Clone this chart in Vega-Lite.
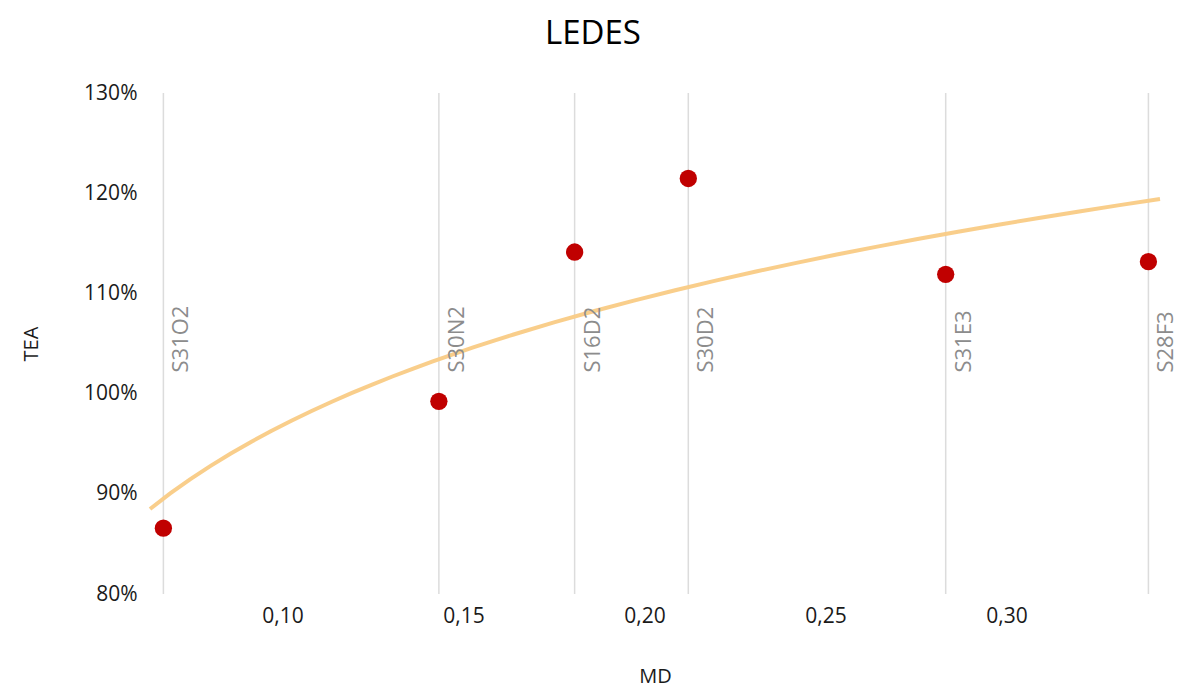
{
  "$schema": "https://vega.github.io/schema/vega-lite/v6.json",
  "width": 1010,
  "height": 501,
  "autosize": {"type": "none"},
  "padding": {"left": 150, "top": 93, "right": 20, "bottom": 93},
  "background": "white",
  "title": {
    "text": "LEDES",
    "font": "Open Sans",
    "fontSize": 33,
    "fontWeight": "normal",
    "color": "#000000",
    "dx": -62,
    "offset": 31
  },
  "config": {
    "view": {"stroke": null},
    "axis": {
      "labelFont": "Open Sans",
      "titleFont": "Open Sans",
      "labelFontSize": 21,
      "titleFontSize": 20,
      "titleFontWeight": "normal",
      "labelColor": "#1a1a1a",
      "titleColor": "#1a1a1a",
      "domain": false,
      "ticks": false,
      "grid": false
    }
  },
  "data": {
    "values": [
      {"name": "S31O2", "MD": 0.0671, "TEA": 0.8657},
      {"name": "S30N2", "MD": 0.1432, "TEA": 0.9923},
      {"name": "S16D2", "MD": 0.1807, "TEA": 1.1413},
      {"name": "S30D2", "MD": 0.2121, "TEA": 1.2147},
      {"name": "S31E3", "MD": 0.2832, "TEA": 1.119},
      {"name": "S28F3", "MD": 0.3392, "TEA": 1.1317}
    ]
  },
  "layer": [
    {
      "mark": {"type": "rule", "color": "#dcdcdc", "strokeWidth": 1.5},
      "encoding": {
        "x": {
          "field": "MD",
          "type": "quantitative",
          "scale": {"domain": [0.0634, 0.3424], "nice": false, "zero": false},
          "axis": {
            "title": "MD",
            "values": [0.1, 0.15, 0.2, 0.25, 0.3],
            "labelExpr": "replace(format(datum.value, '.2f'), '.', ',')",
            "labelPadding": 11,
            "titlePadding": 40
          }
        }
      }
    },
    {
      "transform": [
        {"regression": "TEA", "on": "MD", "method": "log", "extent": [0.0634, 0.3424]}
      ],
      "mark": {"type": "line", "color": "#F9CB85", "strokeWidth": 4, "opacity": 0.95},
      "encoding": {
        "x": {"field": "MD", "type": "quantitative"},
        "y": {"field": "TEA", "type": "quantitative"}
      }
    },
    {
      "mark": {
        "type": "text",
        "angle": 270,
        "align": "left",
        "baseline": "top",
        "dy": 8,
        "font": "Open Sans",
        "fontSize": 22,
        "color": "#8c8c8c"
      },
      "encoding": {
        "x": {"field": "MD", "type": "quantitative"},
        "y": {"datum": 1.021},
        "text": {"field": "name"}
      }
    },
    {
      "mark": {"type": "circle", "color": "#C00000", "opacity": 1, "size": 300},
      "encoding": {
        "x": {"field": "MD", "type": "quantitative"},
        "y": {
          "field": "TEA",
          "type": "quantitative",
          "scale": {"domain": [0.8, 1.3], "nice": false, "zero": false},
          "axis": {
            "title": "TEA",
            "values": [0.8, 0.9, 1.0, 1.1, 1.2, 1.3],
            "format": ".0%",
            "labelPadding": 13,
            "titlePadding": 42
          }
        }
      }
    }
  ]
}
